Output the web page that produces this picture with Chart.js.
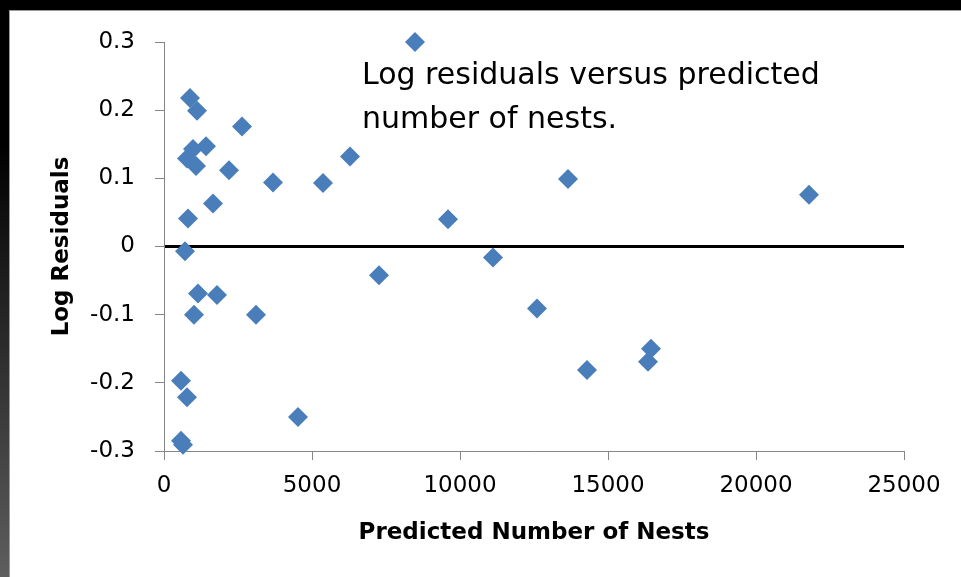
<!DOCTYPE html>
<html>
<head>
<meta charset="utf-8">
<script src="https://cdn.jsdelivr.net/npm/chart.js@4/dist/chart.umd.min.js"></script>
<style>
  html, body { margin: 0; padding: 0; background: #000; }
  .frame {
    position: relative;
    width: 961px;
    height: 577px;
    overflow: hidden;
    background: linear-gradient(to bottom, #000 25%, #5e5e5e 100%);
  }
  .panel {
    position: absolute;
    left: 9px;
    top: 10px;
    right: 0;
    bottom: 0;
    background: #fff;
    border-top: 1px solid #9a9a9a;
    border-left: 1px solid #9a9a9a;
  }
  #residuals-chart { position: absolute; left: 0; top: 0; }
</style>
</head>
<body>
<div class="frame">
  <div class="panel"></div>
  <canvas id="residuals-chart" width="961" height="577" aria-label="Log residuals versus predicted number of nests"></canvas>
</div>
<script>
// predicted number of nests (x) and log residuals (y)
const predictedNests = [
  8480, 878, 1115, 2635, 1419, 980, 777, 1081, 2196, 3682, 5372,
  6284, 13649, 21790, 1655, 811, 9595, 709, 7264, 11115, 1149, 1790,
  1014, 3108, 12601, 574, 777, 4527, 14291, 16453, 16351, 574, 642,
];
const logResiduals = [
  0.300, 0.218, 0.199, 0.176, 0.147, 0.143, 0.129, 0.118, 0.112, 0.094, 0.093,
  0.132, 0.099, 0.076, 0.063, 0.041, 0.040, -0.007, -0.042, -0.016, -0.069, -0.071,
  -0.100, -0.100, -0.091, -0.197, -0.221, -0.250, -0.181, -0.150, -0.169, -0.285, -0.291,
];

const xRange = [0, 25000];
const xStep = 5000;
const yRange = [-0.3, 0.3];
const yStep = 0.1;

const xAxisTitle = "Predicted Number of Nests";
const yAxisTitle = "Log Residuals";
const annotationLines = ["Log residuals versus predicted", "number of nests."];

const FONT = '"DejaVu Sans", "Open Sans", sans-serif';
const AXIS_GRAY = "#868686";
const MARKER_BLUE = "#4a7ebb";

const annotationPlugin = {
  id: "annotationText",
  afterDraw(chart) {
    const ctx = chart.ctx;
    ctx.save();
    ctx.font = `30px ${FONT}`;
    ctx.fillStyle = "#000";
    ctx.textAlign = "left";
    ctx.textBaseline = "alphabetic";
    annotationLines.forEach((line, index) => {
      ctx.fillText(line, 362, 84 + index * 44);
    });
    ctx.restore();
  },
};

const points = predictedNests.map((x, i) => ({ x, y: logResiduals[i] }));

new Chart(document.getElementById("residuals-chart").getContext("2d"), {
  type: "scatter",
  data: {
    datasets: [
      {
        label: "Log residuals",
        data: points,
        pointStyle: "rectRot",
        pointRadius: 10,
        pointHoverRadius: 10,
        pointBorderWidth: 0,
        backgroundColor: MARKER_BLUE,
        borderColor: MARKER_BLUE,
        clip: false,
      },
    ],
  },
  options: {
    responsive: false,
    animation: false,
    layout: { padding: { left: 0, top: 42, right: 57, bottom: 0 } },
    plugins: {
      legend: { display: false },
      tooltip: { enabled: false },
    },
    scales: {
      x: {
        type: "linear",
        position: "bottom",
        min: xRange[0],
        max: xRange[1],
        afterFit: (scale) => { scale.height = 126; },
        border: { color: AXIS_GRAY, width: 1 },
        grid: {
          drawOnChartArea: false,
          tickLength: 9,
          tickColor: AXIS_GRAY,
        },
        ticks: {
          stepSize: xStep,
          color: "#000",
          padding: 12,
          maxRotation: 0,
          font: { family: FONT, size: 23 },
          callback: (value) => String(value),
        },
        title: {
          display: true,
          text: xAxisTitle,
          color: "#000",
          font: { family: FONT, size: 23, weight: "bold" },
          padding: { top: 0, bottom: 30 },
        },
      },
      y: {
        type: "linear",
        position: "left",
        min: yRange[0],
        max: yRange[1],
        afterFit: (scale) => { scale.width = 164; },
        border: { color: AXIS_GRAY, width: 1 },
        grid: {
          color: (ctx) => (Math.abs(ctx.tick?.value ?? 1) < 1e-9 ? "#000" : "rgba(0,0,0,0)"),
          lineWidth: (ctx) => (Math.abs(ctx.tick?.value ?? 1) < 1e-9 ? 3 : 1),
          tickLength: 9,
          tickColor: AXIS_GRAY,
          tickWidth: 1,
        },
        ticks: {
          stepSize: yStep,
          color: "#000",
          padding: 20,
          font: { family: FONT, size: 23 },
          callback: (value) => String(Math.round(Number(value) * 10) / 10),
        },
        title: {
          display: true,
          text: yAxisTitle,
          color: "#000",
          font: { family: FONT, size: 23, weight: "bold" },
          padding: { top: 48, bottom: 0 },
        },
      },
    },
  },
  plugins: [annotationPlugin],
});
</script>
</body>
</html>
